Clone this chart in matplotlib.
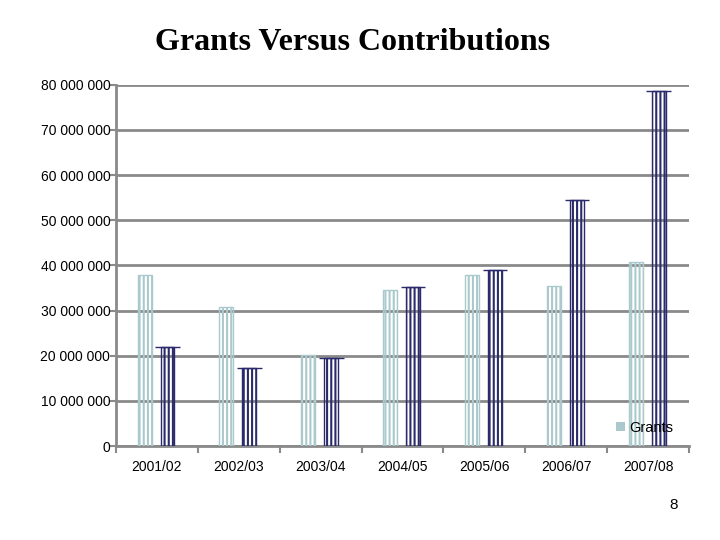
import matplotlib
matplotlib.use('Agg')
import matplotlib.pyplot as plt
import matplotlib.ticker as mticker
from matplotlib.patches import Patch
import numpy as np

years = ['2001/02', '2002/03', '2003/04', '2004/05', '2005/06', '2006/07', '2007/08']
grants = [37.9e6, 30.8e6, 20.2e6, 34.6e6, 37.9e6, 35.5e6, 40.8e6]
contributions = [22.0e6, 17.3e6, 19.5e6, 35.3e6, 39.0e6, 54.5e6, 78.7e6]

grant_col = '#a9c9cc'
contrib_col = '#2b2b6b'
grid_col = '#8a8a8a'

plt.rcParams['font.family'] = ['Liberation Sans', 'DejaVu Sans']
plt.rcParams['hatch.linewidth'] = 1.5

fig = plt.figure(figsize=(7.2, 5.4), dpi=100)
ax = fig.add_axes([0.161, 0.174, 0.796, 0.669])

x = np.arange(len(years))
w = 0.17
# striped, see-through bars like the washed-out original
ax.bar(x - 0.15, grants, width=w, facecolor='none', edgecolor=grant_col,
       hatch='||||', linewidth=1.0, zorder=3)
ax.bar(x + 0.13, contributions, width=w, facecolor='none', edgecolor=contrib_col,
       hatch='||||', linewidth=1.0, zorder=3)
ax.hlines(contributions, x + 0.13 - 0.15, x + 0.13 + 0.15, color=contrib_col, lw=1.0, zorder=4)

ax.set_xlim(-0.5, len(years) - 0.5)
ax.set_ylim(0, 80e6)
ax.yaxis.set_major_locator(mticker.MultipleLocator(10e6))
ax.yaxis.set_major_formatter(mticker.FuncFormatter(lambda v, p: f'{int(v):,}'.replace(',', ' ')))
ax.grid(axis='y', color=grid_col, lw=2, zorder=1)
ax.set_axisbelow(True)

ax.set_xticks(x)
ax.set_xticklabels(years, fontsize=10)
ax.set_xticks(np.arange(len(years) + 1) - 0.5, minor=True)
ax.tick_params(axis='x', which='major', length=0, pad=10)
ax.tick_params(axis='x', which='minor', length=5, color=grid_col, width=1.5)
ax.tick_params(axis='y', length=4, color=grid_col, width=1.5, labelsize=10, pad=0)

for s in ['top', 'right']:
    ax.spines[s].set_visible(False)
for s in ['left', 'bottom']:
    ax.spines[s].set_color(grid_col)
    ax.spines[s].set_linewidth(2)

ax.legend(handles=[Patch(facecolor=grant_col, label='Grants')], loc='lower right',
          bbox_to_anchor=(0.995, -0.005), frameon=False, fontsize=10.5,
          handlelength=0.6, handleheight=0.6, handletextpad=0.3)

fig.text(0.49, 0.922, 'Grants Versus Contributions', ha='center', va='center',
         fontsize=23, fontweight='bold', family='Liberation Serif')
fig.text(0.935, 0.065, '8', ha='center', va='center', fontsize=11)

fig.savefig('out.png', dpi=100)
